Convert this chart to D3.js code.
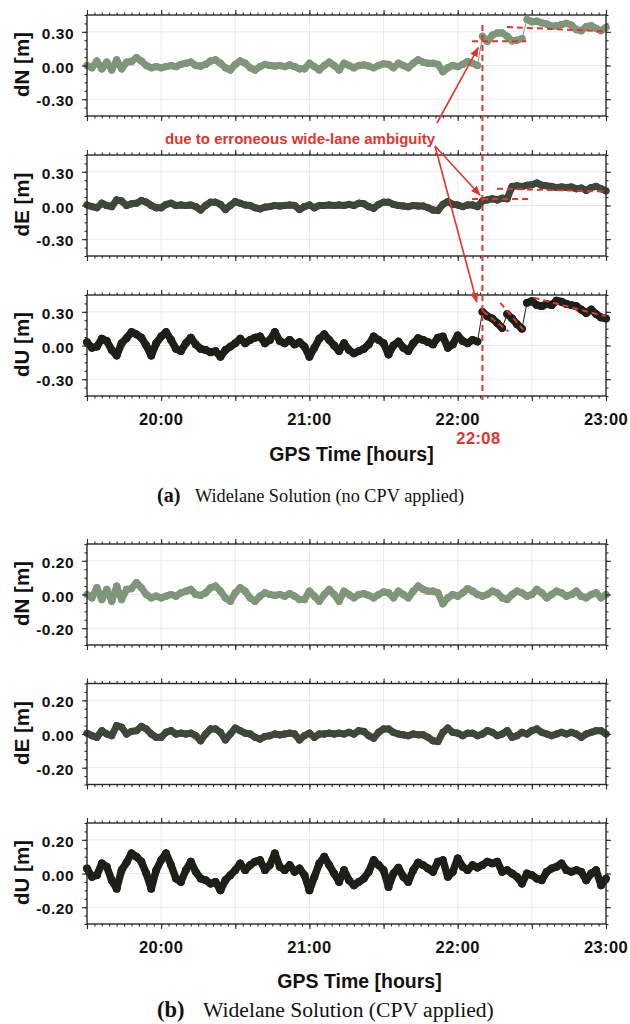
<!DOCTYPE html>
<html><head><meta charset="utf-8">
<script src="https://cdn.jsdelivr.net/npm/d3@7"></script>
<style>body{margin:0;background:#fff}svg{display:block}</style>
</head><body>
<svg id="c" width="630" height="1024"></svg>
<script>
// ---------- DATA ----------
const startHour = 19.5, endHour = 23;     // 19:30 .. 23:00
const stepMin = 2;                        // epoch spacing (min)
const postStartMin = 160;                 // first epoch of post-jump arrays
const eventHour = 22 + 10/60;             // red vertical marker
const eventLabel = "22:08";

// pre-jump epochs (19:30..22:08), shared by (a) and (b)
const preN = [0.00,-0.02,0.04,-0.03,0.03,-0.04,0.05,-0.03,0.03,0.035,
 0.07,0.04,0.00,-0.02,-0.01,-0.02,-0.01,0.00,-0.01,0.01,
 0.02,0.03,0.00,-0.005,0.01,0.04,0.05,0.02,-0.02,-0.04,
 0.01,0.04,0.02,-0.02,-0.04,-0.01,0.01,0.00,-0.005,0.00,
 -0.01,0.005,-0.01,-0.03,-0.03,0.02,-0.01,-0.04,0.00,0.03,
 0.00,-0.04,0.02,0.00,-0.02,0.00,0.005,-0.005,-0.02,0.00,
 0.015,0.01,-0.02,0.02,0.00,-0.02,0.02,0.05,0.03,0.02,
 0.02,0.01,-0.055,-0.02,0.00,-0.01,0.01,0.035,0.02,0.00];
const preE = [0.005,-0.01,-0.02,0.02,0.00,-0.01,0.05,0.04,0.00,0.015,
 0.02,0.045,0.03,0.00,-0.02,-0.02,0.01,0.02,0.00,0.005,
 0.00,0.005,-0.01,-0.04,0.00,0.03,0.03,0.01,-0.035,0.00,
 0.035,0.02,0.005,0.00,-0.02,-0.03,-0.015,-0.01,0.00,-0.005,
 0.00,0.005,0.00,-0.035,-0.01,0.005,-0.02,0.00,0.00,0.005,
 0.00,0.005,0.00,0.01,0.00,0.02,0.015,-0.01,-0.025,0.01,
 0.03,0.03,0.01,0.00,-0.005,-0.01,0.00,-0.005,-0.005,-0.02,
 -0.04,-0.045,0.01,0.035,0.01,0.005,-0.01,0.005,0.005,-0.01];
const preU = [0.03,-0.02,-0.01,0.06,0.04,-0.04,-0.09,0.02,0.065,0.12,
 0.10,0.07,0.00,-0.09,0.02,0.08,0.12,0.05,-0.03,-0.05,
 0.02,0.07,0.01,-0.03,-0.04,-0.06,-0.05,-0.10,-0.04,-0.01,
 0.02,0.06,0.02,0.05,0.07,0.08,0.02,0.05,0.12,0.04,
 0.02,0.05,0.01,0.03,-0.01,-0.10,-0.02,0.06,0.10,0.05,
 0.00,-0.05,0.02,-0.04,-0.07,-0.05,-0.03,0.01,0.08,0.05,
 0.02,-0.08,0.00,0.035,-0.02,-0.05,0.02,0.065,0.05,0.03,
 0.01,0.07,0.08,-0.02,0.01,0.09,0.04,0.02,0.05,0.035];

// post-jump epochs (22:10..23:00)
const postN_a = [0.26,0.215,0.27,0.29,0.29,0.26,0.22,0.225,0.24,0.41,0.39,0.395,0.38,0.37,0.35,0.355,0.365,0.375,0.36,0.32,0.31,0.345,0.355,0.33,0.31,0.34];
const postE_a = [0.04,0.05,0.06,0.05,0.065,0.06,0.17,0.175,0.17,0.18,0.185,0.20,0.18,0.175,0.17,0.16,0.165,0.16,0.165,0.15,0.155,0.135,0.16,0.17,0.15,0.13];
const postU_a = [0.30,0.26,0.24,0.20,0.155,0.28,0.24,0.19,0.15,0.38,0.395,0.36,0.35,0.37,0.36,0.40,0.39,0.37,0.36,0.35,0.32,0.29,0.32,0.28,0.25,0.24];
const postN_b = [-0.01,0.00,0.02,0.01,-0.02,-0.03,0.00,0.02,0.01,-0.01,0.00,0.03,0.01,-0.02,0.00,0.02,0.01,-0.01,0.00,0.02,-0.01,-0.02,0.00,0.01,-0.02,0.00];
const postE_b = [0.00,0.02,0.01,-0.01,0.00,0.02,-0.02,-0.01,0.01,0.00,0.02,0.03,0.01,0.00,-0.01,0.00,0.01,0.00,0.01,0.00,-0.02,0.00,0.01,0.02,0.02,0.00];
const postU_b = [0.05,0.07,0.06,0.07,0.01,0.02,0.00,-0.02,-0.06,0.00,-0.01,-0.03,-0.04,0.01,0.03,0.04,0.06,0.02,0.01,0.02,0.01,-0.04,0.00,0.02,-0.07,-0.03];

// red dashed reference segments [h0, v0, h1, v1]
const refN = [[22.097,0.215,22.462,0.215],[22.332,0.343,23.0,0.304]];
const refE = [[22.097,0.057,22.475,0.057],[22.265,0.150,23.0,0.125]];
const refU = [[22.170,0.305,22.343,0.125],[22.287,0.380,22.443,0.140],[22.512,0.425,23.0,0.260]];

// ticks
const xMajor = [19.5,20,20.5,21,21.5,22,22.5,23];
const xLabelTicks = [20,21,22,23];
const xLabels = ["20:00","21:00","22:00","23:00"];
const yDomainA = [-0.45,0.45], yMajorA = [-0.3,0,0.3], yLabelsA = ["-0.30","0.00","0.30"], yMinorStepA = 0.075;
const yDomainB = [-0.3,0.3],  yMajorB = [-0.2,0,0.2], yLabelsB = ["-0.20","0.00","0.20"], yMinorStepB = 0.05;
const compLabels = ["dN [m]","dE [m]","dU [m]"];
const compColors = ["#7f967a","#3e4739","#1b2018"];
const annotation = "due to erroneous wide-lane ambiguity";
const xTitle = "GPS Time [hours]";
const captions = [["(a)","Widelane Solution (no CPV applied)"],["(b)","Widelane Solution (CPV applied)"]];

// ---------- DRAW ----------
const svg = d3.select('#c');
const RED = '#e2342d', AX = '#2a2a2a';
const SANS = "'Liberation Sans', Arial, Helvetica, sans-serif";
const SERIF = "'Liberation Serif', 'Times New Roman', serif";
const x = d3.scaleLinear().domain([startHour, endHour]).range([87, 606]);
const PH = 101;
const xMinor = d3.range(0, 71).map(i => startHour + i*3/60);
const JUMP = 0.12; // value step treated as a discontinuity (thin connector only)

function series(pre, post){
  return pre.map((v,i)=>({h:startHour + i*stepMin/60, v}))
    .concat(post.map((v,i)=>({h:startHour + (postStartMin + i*stepMin)/60, v})));
}

function drawSub(cfg){
  const g = svg.append('g');
  const top = cfg.top, bot = top + PH;
  const y = d3.scaleLinear().domain(cfg.domain).range([bot, top]);
  const yMinor = d3.range(0, Math.round((cfg.domain[1]-cfg.domain[0])/cfg.minorStep)+1)
    .map(i => cfg.domain[0] + i*cfg.minorStep);
  // grid
  g.selectAll('line.gx').data(xMajor.slice(1,-1)).join('line').attr('class','gx')
    .attr('x1',d=>x(d)).attr('x2',d=>x(d)).attr('y1',top).attr('y2',bot)
    .attr('stroke','#e9e9e9').attr('stroke-width',1);
  g.selectAll('line.gy').data(cfg.yMajor).join('line').attr('class','gy')
    .attr('x1',x.range()[0]).attr('x2',x.range()[1]).attr('y1',d=>y(d)).attr('y2',d=>y(d))
    .attr('stroke','#e9e9e9').attr('stroke-width',1);
  // data
  const pts = cfg.data;
  const dg = g.append('g');
  dg.append('path').datum(pts).attr('fill','none').attr('stroke',cfg.color).attr('stroke-width',1)
    .attr('d', d3.line().x(d=>x(d.h)).y(d=>y(d.v)));
  const segs = [];
  for(let i=0;i<pts.length-1;i++){
    if(Math.abs(pts[i+1].v-pts[i].v) < JUMP) segs.push([pts[i],pts[i+1]]);
  }
  dg.selectAll('line.sg').data(segs).join('line').attr('class','sg')
    .attr('x1',d=>x(d[0].h)).attr('y1',d=>y(d[0].v)).attr('x2',d=>x(d[1].h)).attr('y2',d=>y(d[1].v))
    .attr('stroke',cfg.color).attr('stroke-width',cfg.thick).attr('stroke-linecap','round');
  dg.selectAll('circle').data(pts).join('circle')
    .attr('cx',d=>x(d.h)).attr('cy',d=>y(d.v)).attr('r',cfg.r).attr('fill',cfg.color);
  // reference dashed segments
  g.selectAll('line.ref').data(cfg.refs||[]).join('line').attr('class','ref')
    .attr('x1',d=>x(d[0])).attr('y1',d=>y(d[1])).attr('x2',d=>x(d[2])).attr('y2',d=>y(d[3]))
    .attr('stroke',RED).attr('stroke-width',2).attr('stroke-dasharray','6,4');
  // box
  g.append('rect').attr('x',x.range()[0]).attr('y',top).attr('width',x.range()[1]-x.range()[0]).attr('height',PH)
    .attr('fill','none').attr('stroke',AX).attr('stroke-width',1.4);
  // ticks (outward, all four sides)
  const put = (axis, tx, ty) => {
    const a = g.append('g').attr('transform',`translate(${tx},${ty})`).call(axis);
    a.select('.domain').remove();
    a.selectAll('line').attr('stroke',AX).attr('stroke-width',1.1);
    a.selectAll('text').remove();
  };
  put(d3.axisBottom(x).tickValues(xMinor).tickSize(2.5), 0, bot);
  put(d3.axisBottom(x).tickValues(xMajor).tickSize(5), 0, bot);
  put(d3.axisTop(x).tickValues(xMinor).tickSize(2.5), 0, top);
  put(d3.axisTop(x).tickValues(xMajor).tickSize(5), 0, top);
  put(d3.axisLeft(y).tickValues(yMinor).tickSize(2.5), x.range()[0], 0);
  put(d3.axisLeft(y).tickValues(cfg.yMajor).tickSize(5), x.range()[0], 0);
  put(d3.axisRight(y).tickValues(yMinor).tickSize(2.5), x.range()[1], 0);
  put(d3.axisRight(y).tickValues(cfg.yMajor).tickSize(5), x.range()[1], 0);
  // y tick labels
  g.selectAll('text.yl').data(cfg.yMajor).join('text').attr('class','yl')
    .attr('x',74).attr('y',d=>y(d)+7).attr('text-anchor','end')
    .attr('font-family',SANS).attr('font-weight','bold').attr('font-size',15.5).attr('letter-spacing',0.5)
    .attr('fill','#111').text((d,i)=>cfg.yLabels[i]);
  // y title
  g.append('text').attr('transform',`translate(29,${(top+bot)/2 - 1}) rotate(-90)`)
    .attr('text-anchor','middle').attr('font-family',SANS).attr('font-weight','bold').attr('font-size',20.5)
    .attr('fill','#111').text(cfg.label);
  // x tick labels
  if(cfg.showX){
    g.selectAll('text.xl').data(xLabelTicks).join('text').attr('class','xl')
      .attr('x',d=>x(d)).attr('y',bot+28.5).attr('text-anchor','middle')
      .attr('font-family',SANS).attr('font-weight','bold').attr('font-size',16.5).attr('letter-spacing',0.4)
      .attr('fill','#111').text((d,i)=>xLabels[i]);
  }
  return y;
}

const topsA = [15,155,295], topsB = [544,683.5,823];
const preArr = [preN,preE,preU];
const postA = [postN_a,postE_a,postU_a], postB = [postN_b,postE_b,postU_b];
const refsA = [refN,refE,refU];
const rads = [3.6,3.5,3.9], thick = [7,7,7.5];

const yA = topsA.map((t,k)=>drawSub({top:t, domain:yDomainA, yMajor:yMajorA, yLabels:yLabelsA, minorStep:yMinorStepA,
  label:compLabels[k], color:compColors[k], data:series(preArr[k],postA[k]), refs:refsA[k], showX:k===2, r:rads[k], thick:thick[k]}));
const yB = topsB.map((t,k)=>drawSub({top:t, domain:yDomainB, yMajor:yMajorB, yLabels:yLabelsB, minorStep:yMinorStepB,
  label:compLabels[k], color:compColors[k], data:series(preArr[k],postB[k]), refs:[], showX:k===2, r:rads[k], thick:thick[k]}));

// event marker (panel a)
svg.append('line').attr('x1',x(eventHour)).attr('x2',x(eventHour))
  .attr('y1',topsA[0]+10).attr('y2',topsA[2]+PH+4)
  .attr('stroke',RED).attr('stroke-width',2).attr('stroke-dasharray','6,4');
svg.append('text').attr('x',x(eventHour)-4).attr('y',topsA[2]+PH+47.5).attr('text-anchor','middle')
  .attr('font-family',SANS).attr('font-weight','bold').attr('font-size',16.5).attr('letter-spacing',0.4)
  .attr('fill',RED).text(eventLabel);

// annotation + arrows
svg.append('defs').append('marker').attr('id','ah').attr('markerUnits','userSpaceOnUse')
  .attr('markerWidth',10).attr('markerHeight',8).attr('refX',9).attr('refY',4).attr('orient','auto')
  .append('path').attr('d','M0,0 L10,4 L0,8 Z').attr('fill',RED);
svg.append('text').attr('x',165).attr('y',144).attr('font-family',SANS).attr('font-weight','bold')
  .attr('font-size',15).attr('fill',RED).text(annotation);
const arrows = [
  {from:[437,123], y:yA[0], h:22+8.3/60, v:0.159},
  {from:[435,146], y:yA[1], h:22+9.0/60, v:0.094},
  {from:[435,146], y:yA[2], h:22+7.7/60, v:0.388}
];
svg.selectAll('line.arr').data(arrows).join('line').attr('class','arr')
  .attr('x1',d=>d.from[0]).attr('y1',d=>d.from[1]).attr('x2',d=>x(d.h)).attr('y2',d=>d.y(d.v))
  .attr('stroke',RED).attr('stroke-width',1.6).attr('marker-end','url(#ah)');

// x titles
[[topsA[2]+PH+65, 351.5],[topsB[2]+PH+63.5, 359.5]].forEach(([yy,xx])=>{
  svg.append('text').attr('x',xx).attr('y',yy).attr('text-anchor','middle')
    .attr('font-family',SANS).attr('font-weight','bold').attr('font-size',19.5).attr('fill','#111').text(xTitle);
});

// captions
const capCfg = [{y:501.5, bs:20, rs:18.3, rx:195},{y:1016.5, bs:22.5, rs:21.6, rx:203}];
capCfg.forEach((c,i)=>{
  svg.append('text').attr('x',157).attr('y',c.y).attr('font-family',SERIF).attr('font-weight','bold')
    .attr('font-size',c.bs).attr('fill','#111').text(captions[i][0]);
  svg.append('text').attr('x',c.rx).attr('y',c.y).attr('font-family',SERIF)
    .attr('font-size',c.rs).attr('fill','#111').text(captions[i][1]);
});
</script>
</body></html>
